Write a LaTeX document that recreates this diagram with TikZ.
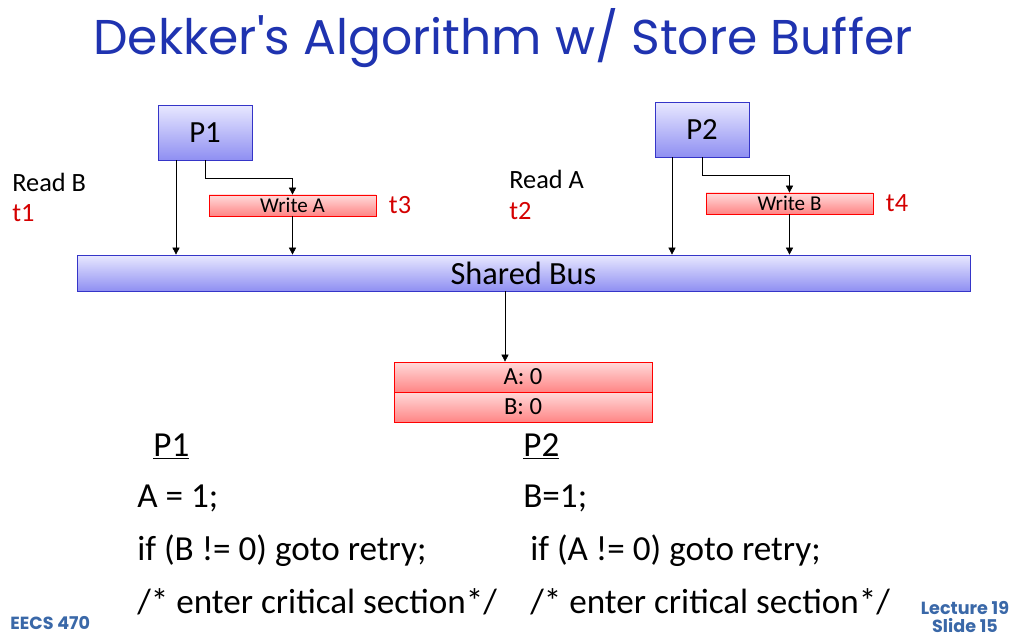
\documentclass[tikz,border=0pt]{standalone}
\usepackage{fontspec}
\setmainfont{Carlito}
\newfontfamily\titlefont{Poppins}
\usetikzlibrary{positioning, arrows.meta, calc}
\definecolor{slideblue}{HTML}{1F33B0}
\definecolor{footblue}{HTML}{3A68A8}
\definecolor{tred}{HTML}{D40000}
\definecolor{boxblueT}{HTML}{E8E8FF}
\definecolor{boxblueB}{HTML}{8F8FF2}
\definecolor{boxblueD}{HTML}{3535C8}
\definecolor{boxredT}{HTML}{FFDADA}
\definecolor{boxredB}{HTML}{FF8585}

\begin{document}
\begin{tikzpicture}[
    x=0.02cm, y=-0.02cm,
    proc/.style={rectangle, draw=boxblueD, thin, top color=boxblueT, bottom color=boxblueB,
                 minimum width=1.88cm, minimum height=1.1cm, inner sep=0pt,
                 font=\fontsize{17.5}{20}\selectfont},
    bus/.style={rectangle, draw=boxblueD, thin, top color=boxblueT, bottom color=boxblueB,
                minimum width=17.86cm, minimum height=0.72cm, inner sep=0pt,
                font=\fontsize{18.4}{21}\selectfont},
    wbox/.style={rectangle, draw=red, thin, top color=boxredT, bottom color=boxredB,
                 minimum width=3.34cm, minimum height=0.42cm, inner sep=0pt,
                 font=\fontsize{12}{14}\selectfont},
    mem/.style={rectangle, draw=red, thin, top color=boxredT, bottom color=boxredB,
                minimum width=5.16cm, minimum height=0.6cm, inner sep=0pt,
                font=\fontsize{14}{16}\selectfont},
    lbl/.style={anchor=base west, inner sep=0pt, font=\fontsize{15}{18}\selectfont},
    tlbl/.style={lbl, text=tred},
    code/.style={anchor=base west, inner sep=0pt, font=\fontsize{20}{24}\selectfont},
    foot/.style={inner sep=0pt, text=footblue, font=\titlefont\bfseries\fontsize{10}{10.5}\selectfont, align=center},
    arrow/.style={-{Triangle[length=4pt, width=4pt]}, thin},
]
\useasboundingbox (0,0) rectangle (1014,638);

% --- title ---
\node[inner sep=0pt, anchor=base, text=slideblue, font=\titlefont\fontsize{27.8}{31}\selectfont]
    (title) at (503,55) {Dekker's Algorithm w/ Store Buffer};

% --- processors and store buffers ---
\node[proc] (P1) at (205,132.5) {P1};
\node[proc] (P2) at (702,129.5) {P2};
\node[wbox] (wrA) at (292.5,205.5) {Write A};
\node[wbox] (wrB) at (789.5,203.5) {Write B};

% --- shared bus and memory ---
\node[bus] (bus) at (523.5,273) {Shared Bus};
\node[mem] (memA) at (523,377) {A: 0};
\node[mem] (memB) at (523,407) {B: 0};

% --- time labels ---
\node[lbl] (rdB) at (12,192) {Read B};
\node[tlbl] (t1) at (12,222) {t1};
\node[lbl] (rdA) at (509,189) {Read A};
\node[tlbl] (t2) at (509,220) {t2};
\node[tlbl, right=7pt of wrA.east, anchor=west] (t3) {t3};
\node[tlbl, right=7pt of wrB.east, anchor=west] (t4) {t4};

% ============== arrows ==============
\draw[arrow] ([xshift=-0.58cm]P1.south) -- ([xshift=-0.58cm]P1.south |- bus.north);
\draw[arrow] (P1.south) -- ++(0,18) -| (wrA.north);
\draw[arrow] (wrA.south) -- (wrA.south |- bus.north);
\draw[arrow] ([xshift=-0.6cm]P2.south) -- ([xshift=-0.6cm]P2.south |- bus.north);
\draw[arrow] (P2.south) -- ++(0,18) -| (wrB.north);
\draw[arrow] (wrB.south) -- (wrB.south |- bus.north);
\draw[arrow] ([xshift=-0.36cm]memA.north |- bus.south) -- ([xshift=-0.36cm]memA.north);

% --- code ---
\node[code] (c1h) at (153,456) {\underline{P1}};
\node[code] (c1a) at (137,507) {A = 1;};
\node[code] (c1b) at (137,560) {if (B != 0) goto retry;};
\node[code] (c1c) at (137,613) {/* enter critical section*/};
\node[code] (c2h) at (523,456) {\underline{P2}};
\node[code] (c2a) at (523,507) {B=1;};
\node[code] (c2b) at (530,560) {if (A != 0) goto retry;};
\node[code] (c2c) at (530,613) {/* enter critical section*/};

% --- footer ---
\node[foot, anchor=west] (course) at (10,623) {EECS 470};
\node[foot] (slide) at (965,617) {Lecture 19\\Slide 15};

\end{tikzpicture}
\end{document}
